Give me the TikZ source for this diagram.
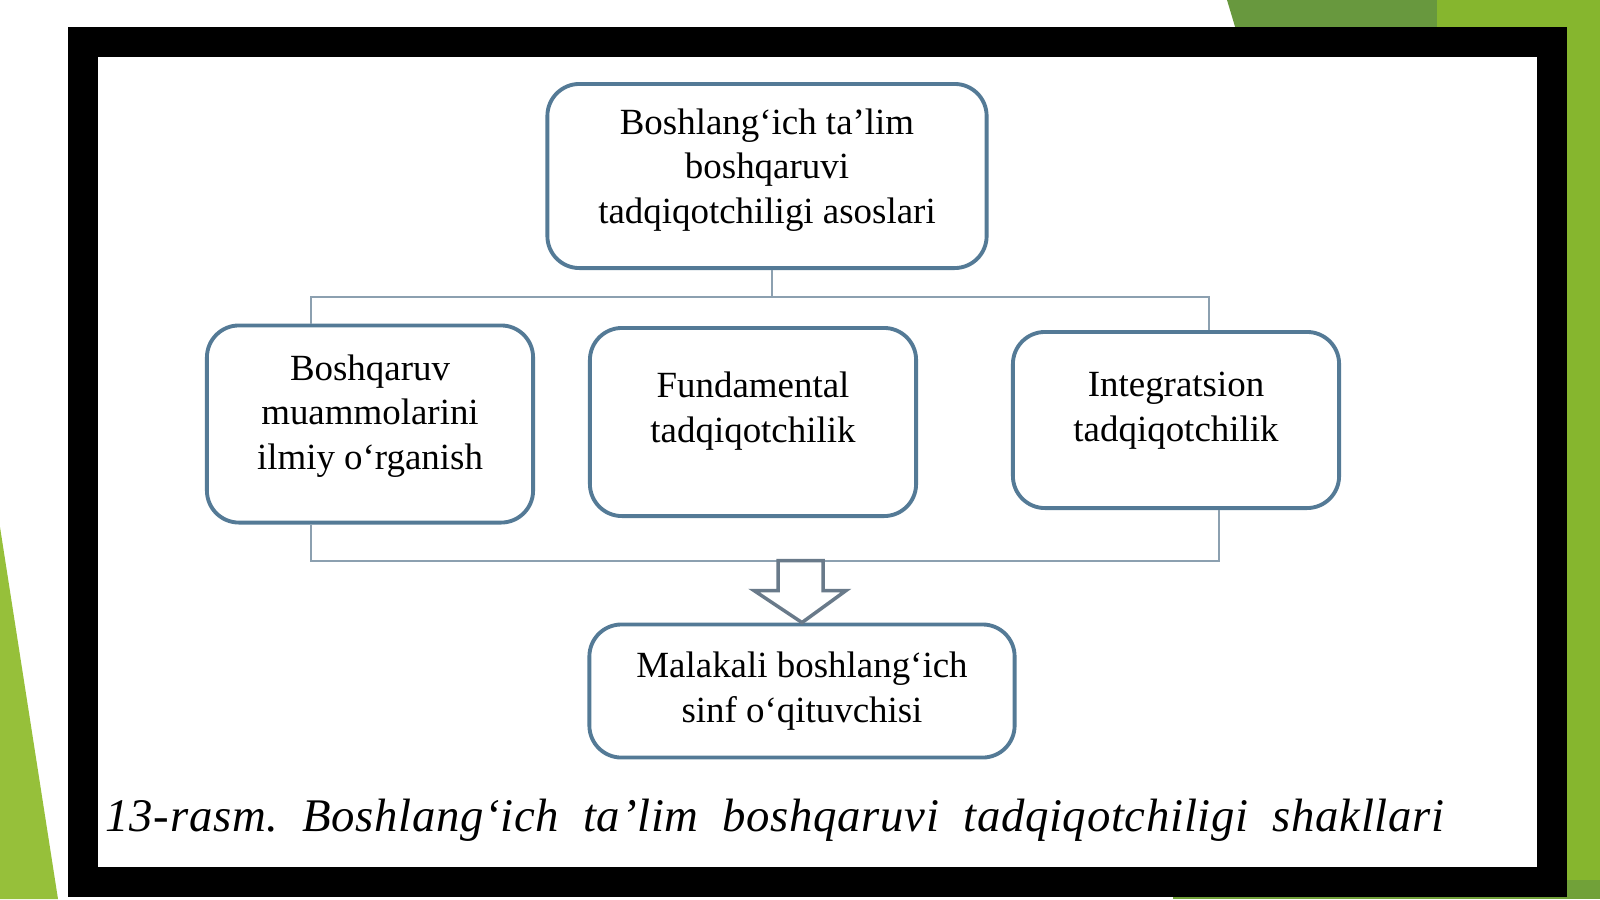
\documentclass[tikz,border=0pt]{standalone}
\usepackage{fontspec}
\setmainfont{Liberation Serif}
\definecolor{boxline}{RGB}{84,122,150}
\definecolor{connline}{RGB}{140,160,176}
\definecolor{arrline}{RGB}{105,122,138}
\definecolor{darkleaf}{RGB}{104,152,62}
\definecolor{leaf}{RGB}{134,182,46}
\definecolor{lightleaf}{RGB}{150,192,58}

\begin{document}
\begin{tikzpicture}[x=0.01cm,y=-0.01cm,
	blok/.style={draw=boxline,line width=1.1pt,rounded corners=0.32cm,fill=white,
		align=center,text depth=0.2cm,font=\fontsize{10.5}{12.7}\selectfont},
	conn/.style={draw=connline,line width=0.7pt},
	blokarrow/.style={draw=arrline,line width=1pt,fill=white,line join=miter}]
	% slide background
	\fill[white] (0,0) rectangle (1600,899);
	\fill[darkleaf] (1227,0) -- (1437,0) -- (1442,30) -- (1236,30) -- cycle;
	\fill[leaf] (1437,0) rectangle (1600,899);
	\fill[darkleaf!70!leaf] (1173,880) rectangle (1600,899);
	\fill[lightleaf] (0,527) -- (58,899) -- (0,899) -- cycle;
	\fill[black] (68,27) rectangle (1567,897);
	\fill[white] (98,57) rectangle (1537,867);
	% boxes
	\node[blok,minimum width=4.39cm,minimum height=1.84cm] (top) at (767,176)
		{Boshlang‘ich ta’lim\\boshqaruvi\\tadqiqotchiligi asoslari};
	\node[blok,minimum width=3.26cm,minimum height=1.97cm,text depth=0.24cm] (muammo) at (370,424)
		{Boshqaruv\\muammolarini\\ilmiy o‘rganish};
	\node[blok,minimum width=3.26cm,minimum height=1.88cm,text depth=0.3cm] (fund) at (753,422)
		{Fundamental\\tadqiqotchilik};
	\node[blok,minimum width=3.26cm,minimum height=1.76cm,text depth=0.26cm] (integ) at (1176,420)
		{Integratsion\\tadqiqotchilik};
	\node[blok,minimum width=4.25cm,minimum height=1.33cm,text depth=0.08cm] (ustoz) at (802,691)
		{Malakali boshlang‘ich\\sinf o‘qituvchisi};
	% connectors
	\coordinate (upm) at (772,297);
	\coordinate (upl) at (311,297);
	\coordinate (upr) at (1209,297);
	\coordinate (dnl) at (311,561);
	\coordinate (dnr) at (1219,561);
	\draw[conn] (upm |- top.south) -- (upm);
	\draw[conn] (upl |- muammo.north) -- (upl) -- (upr) -- (upr |- integ.north);
	\draw[conn] (dnl |- muammo.south) -- (dnl) -- (dnr) -- (dnr |- integ.south);
	\draw[blokarrow] (ustoz.north) -- ++(-48,-32) -- ++(24,0) -- ++(0,-30)
		-- ++(45,0) -- ++(0,30) -- ++(23,0) -- cycle;
	% caption
	\node[anchor=base west,inner sep=0pt,font=\fontsize{13.3}{15}\itshape\addfontfeatures{LetterSpace=1.5}] (cap) at (105,831)
		{\frenchspacing\makebox[13.38cm][s]{13-rasm. Boshlang‘ich ta’lim boshqaruvi tadqiqotchiligi shakllari}};
\end{tikzpicture}
\end{document}
